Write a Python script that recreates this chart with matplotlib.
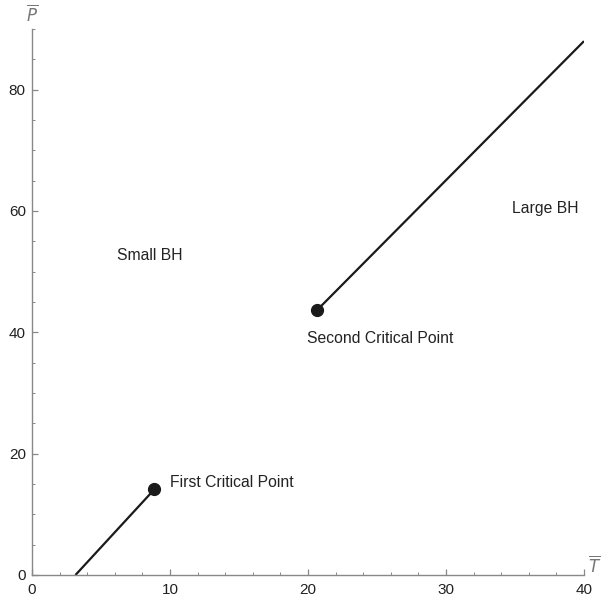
import matplotlib.pyplot as plt
from matplotlib.ticker import MultipleLocator

plt.rcParams['font.family'] = ['Liberation Sans', 'DejaVu Sans']

# coexistence lines (T, P)
line1_T = [3.15, 8.86]
line1_P = [0.0, 14.1]
line2_T = [20.63, 40.0]
line2_P = [43.6, 88.0]

# critical points
crit_T = [8.86, 20.63]
crit_P = [14.1, 43.6]

labels = ["Small BH", "Large BH", "Second Critical Point", "First Critical Point"]
label_T = [8.55, 37.2, 25.2, 10.0]
label_P = [52.7, 60.4, 39.0, 15.3]

fig = plt.figure(figsize=(6.05, 5.99), dpi=100)
ax = fig.add_axes([32/605, 24/599, 552/605, 546/599])

ax.plot(line1_T, line1_P, color='#1a1a1a', lw=1.6, solid_capstyle='butt')
ax.plot(line2_T, line2_P, color='#1a1a1a', lw=1.6, solid_capstyle='butt')
ax.plot(crit_T, crit_P, 'o', color='#1a1a1a', ms=8.5, clip_on=False)

for i, txt in enumerate(labels):
    ha = 'left' if i == 3 else 'center'
    ax.text(label_T[i], label_P[i], txt, ha=ha, va='center', fontsize=11.3, color='#222222')

ax.set_xlim(0, 40)
ax.set_ylim(0, 90)
ax.xaxis.set_major_locator(MultipleLocator(10))
ax.xaxis.set_minor_locator(MultipleLocator(2))
ax.yaxis.set_major_locator(MultipleLocator(20))
ax.yaxis.set_minor_locator(MultipleLocator(5))

for s in ['top', 'right']:
    ax.spines[s].set_visible(False)
for s in ['left', 'bottom']:
    ax.spines[s].set_color('#888888')
    ax.spines[s].set_linewidth(1.0)

ax.tick_params(which='both', direction='in', color='#888888', labelcolor='#222222', labelsize=11)
ax.tick_params(which='major', length=4, width=0.9)
ax.tick_params(which='minor', length=2.2, width=0.7)
ax.tick_params(axis='y', which='major', pad=4.5)
ax.tick_params(axis='x', which='major', pad=5.5)

# axis labels with overbars
fig.text(32/605, 1 - 3/599, r'$\overline{P}$', ha='center', va='top',
         fontsize=12, color='#777777')
ax.text(1.008, 0.0, r'$\overline{T}$', transform=ax.transAxes, ha='left', va='bottom',
        fontsize=12, color='#777777')

fig.savefig('out.png', dpi=100)
